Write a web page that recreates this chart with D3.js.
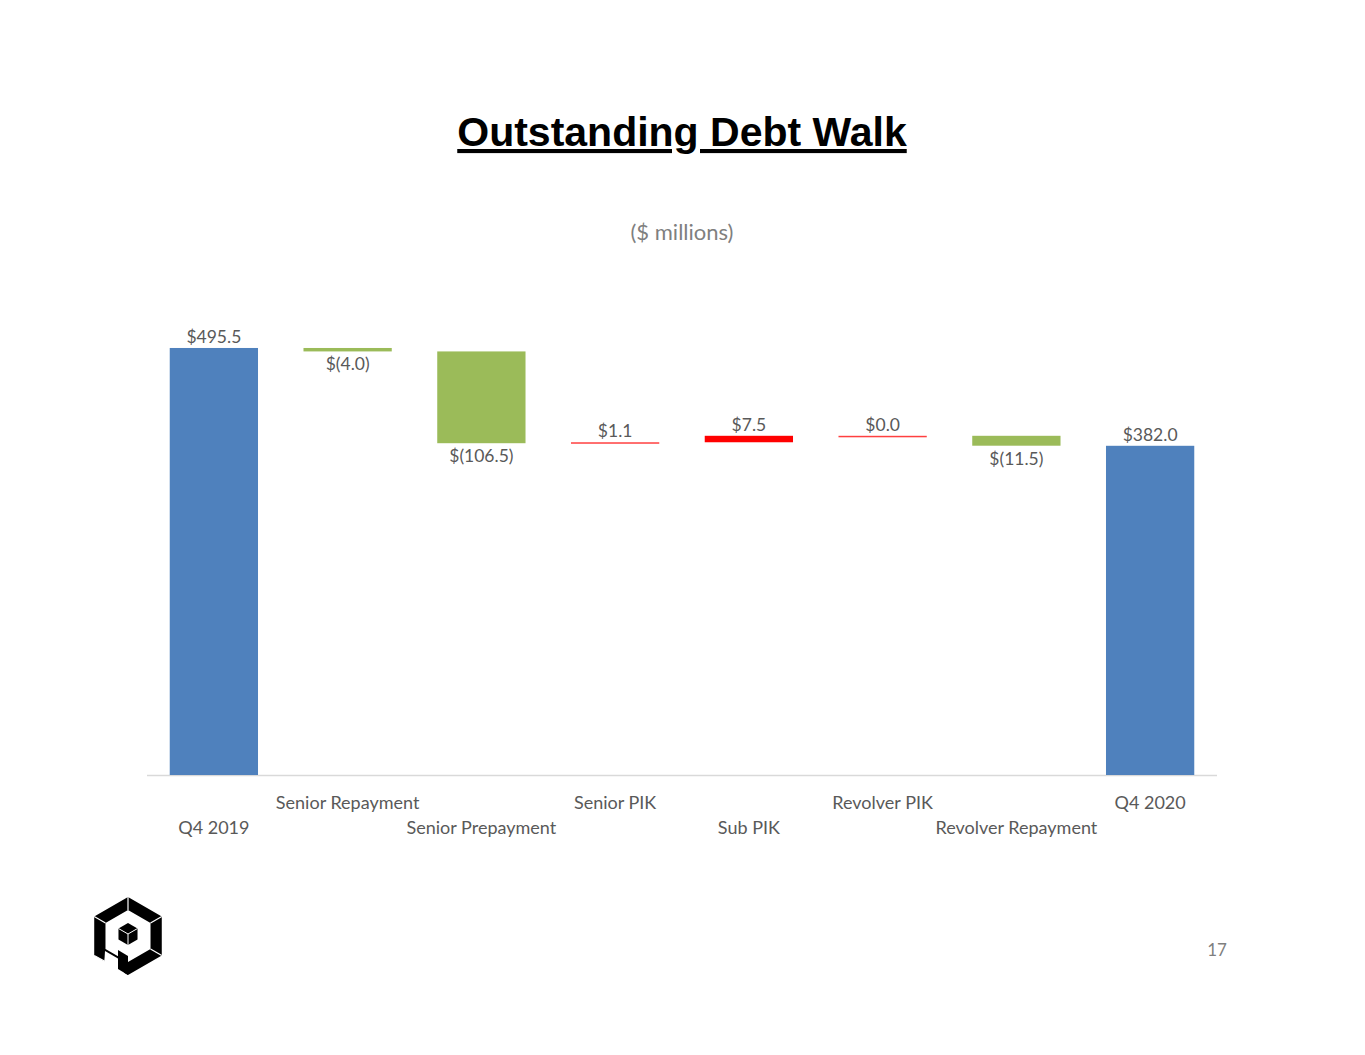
<!DOCTYPE html>
<html>
<head>
<meta charset="utf-8">
<script src="https://cdn.jsdelivr.net/npm/d3@7"></script>
<style>
    html, body { margin: 0; padding: 0; background: #fff; }
    svg { display: block; }
</style>
</head>
<body>
<svg id="chart" width="1365" height="1055"></svg>
<script>

// Chart data
const categories = ["Q4 2019", "Senior Repayment", "Senior Prepayment", "Senior PIK",
                    "Sub PIK", "Revolver PIK", "Revolver Repayment", "Q4 2020"];
const values = [495.5, -4.0, -106.5, 1.1, 7.5, 0.0, -11.5, 382.0];
const kinds = ["total", "delta", "delta", "delta", "delta", "delta", "delta", "total"];
const labels = ["$495.5", "$(4.0)", "$(106.5)", "$1.1", "$7.5", "$0.0", "$(11.5)", "$382.0"];

const svg = d3.select("#chart");
const font = "Lato, 'Open Sans', sans-serif";
const grey = "#595959";

// Build the walk (start/end of each step).
let running = 0;
const steps = categories.map((c, i) => {
    let start, end;
    if (kinds[i] == "total") {
        start = 0;
        end = values[i];
        running = values[i];
    } else {
        start = running;
        end = running + values[i];
        running = end;
    }
    return { name: c, value: values[i], kind: kinds[i], label: labels[i], start: start, end: end, i: i };
});

// Scales
const x = d3.scaleBand()
    .domain(categories)
    .range([147, 1217])
    .paddingInner(0.34)
    .paddingOuter(0.17);

const y = d3.scaleLinear()
    .domain([0, 500])
    .range([775, 344.1]);

const color = d => d.kind == "total" ? "#4F81BD" : (d.value < 0 ? "#9BBB59" : "#FF0000");

// Title
svg.append("text")
    .attr("x", 682)
    .attr("y", 146)
    .attr("text-anchor", "middle")
    .style("font-family", "'Liberation Sans', Arial, sans-serif")
    .style("font-weight", "bold")
    .style("font-size", "41px")
    .style("text-decoration", "underline")
    .attr("fill", "#000")
    .text("Outstanding Debt Walk");

svg.append("text")
    .attr("x", 682)
    .attr("y", 240)
    .attr("text-anchor", "middle")
    .style("font-family", font)
    .style("font-size", "22px")
    .attr("fill", "#7f7f7f")
    .text("($ millions)");

// Axis baseline
svg.append("line")
    .attr("x1", 147).attr("x2", 1217)
    .attr("y1", y(0) + 0.5).attr("y2", y(0) + 0.5)
    .attr("stroke", "#d9d9d9")
    .attr("stroke-width", 1.5);

// Bars
svg.append("g").selectAll("rect")
    .data(steps)
    .join("rect")
        .attr("x", d => x(d.name))
        .attr("width", x.bandwidth())
        .attr("y", d => y(Math.max(d.start, d.end)))
        .attr("height", d => Math.max(1.5, Math.abs(y(d.start) - y(d.end))))
        .attr("fill", color)
        .attr("opacity", d => Math.abs(y(d.start) - y(d.end)) < 2 ? 0.75 : 1);

// Value labels: above for totals and increases, below for decreases.
svg.append("g").selectAll("text")
    .data(steps)
    .join("text")
        .attr("x", d => x(d.name) + x.bandwidth() / 2)
        .attr("y", d => d.value < 0
            ? y(Math.min(d.start, d.end)) + 19
            : y(Math.max(d.start, d.end)) - 5)
        .attr("text-anchor", "middle")
        .style("font-family", font)
        .style("font-size", "17.5px")
        .attr("fill", grey)
        .text(d => d.label);

// Category labels, staggered on two rows.
svg.append("g").selectAll("text")
    .data(steps)
    .join("text")
        .attr("x", d => x(d.name) + x.bandwidth() / 2)
        .attr("y", d => d.i % 2 == 1 ? 809 : 834)
        .attr("text-anchor", "middle")
        .style("font-family", font)
        .style("font-size", "18px")
        .attr("fill", grey)
        .text(d => d.name);

// Page number
svg.append("text")
    .attr("x", 1217)
    .attr("y", 956)
    .attr("text-anchor", "middle")
    .style("font-family", font)
    .style("font-size", "17px")
    .attr("fill", "#7f7f7f")
    .text("17");

// Logo (hexagonal "p" mark)
const logo = svg.append("g").attr("transform", "translate(128,936)");
const hex = r => d3.range(6).map(k => {
    const a = Math.PI / 3 * k - Math.PI / 2;
    return [r * Math.cos(a), r * Math.sin(a)];
});
const outer = hex(39), inner = hex(26);
const ringPath = "M" + outer.join("L") + "Z" + "M" + inner.join("L") + "Z";
logo.append("path")
    .attr("d", ringPath)
    .attr("fill-rule", "evenodd")
    .attr("fill", "#000");
// gap at the lower left side of the ring
logo.append("polygon")
    .attr("points", [[-23, 15], [-4, 26], [-4, 42], [-24, 30]].join(" "))
    .attr("fill", "#fff");
// stem of the p
logo.append("polygon")
    .attr("points", [[-10, 14], [0, 20], [0, 39], [-10, 33]].join(" "))
    .attr("fill", "#000");
// thin highlight lines for the 3D look
logo.append("g")
    .attr("stroke", "#fff")
    .attr("stroke-width", 1.2)
    .selectAll("line")
    .data([
        [outer[0], inner[0]], [outer[1], inner[1]], [outer[2], inner[2]],
        [outer[4], [outer[4][0] + 11, outer[4][1] + 6]], [outer[5], inner[5]]
    ])
    .join("line")
        .attr("x1", d => d[0][0]).attr("y1", d => d[0][1])
        .attr("x2", d => d[1][0]).attr("y2", d => d[1][1]);
// small cube
const cube = hex(11).map(p => [p[0], p[1] - 2]);
logo.append("path")
    .attr("d", "M" + cube.join("L") + "Z")
    .attr("fill", "#000");
logo.append("g")
    .attr("stroke", "#fff")
    .attr("stroke-width", 1)
    .selectAll("line")
    .data([cube[1], cube[3], cube[5]])
    .join("line")
        .attr("x1", 0).attr("y1", -2)
        .attr("x2", d => d[0]).attr("y2", d => d[1]);

</script>
</body>
</html>
